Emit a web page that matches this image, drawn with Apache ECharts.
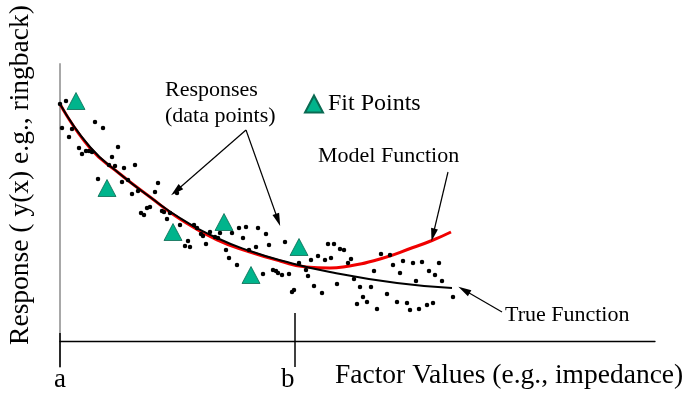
<!DOCTYPE html>
<html>
<head>
<meta charset="utf-8">
<script src="https://cdn.jsdelivr.net/npm/echarts@6/dist/echarts.min.js"></script>
<style>html,body{margin:0;padding:0;background:#fff}#c{width:692px;height:397px}</style>
</head>
<body>
<div id="c"></div>
<script>
// Data (x: factor units from a, y: response units above the factor axis)
const responseDots = [
[0,237],[6,240],[2,213],[9,204],[12,212],[35,219],[43,213],[19,193],[22,187],[26,190],[29,190],[32,189],
[58,194],[52,184],[49,176],[55,175],[64,173],[75,176],[38,162],[62,159],[68,161],[72,147],[98,158],[95,149],
[78,150],[87,133],[90,134],[81,128],[84,126],[102,130],[104,129],[110,128],[107,122],[117,148],[120,116],
[134,116],[137,113],[141,107],[143,105],[150,109],[155,104],[158,103],[128,100],[125,95],[130,94],[146,97],
[160,108],[172,108],[179,113],[186,114],[183,103],[166,91],[169,83],[177,76],[198,113],[206,107],[196,94],
[209,96],[189,91],[225,99],[203,67],[213,71],[216,70],[218,68],[222,66],[229,67],[232,49],[234,51],[239,78],
[246,71],[248,65],[254,55],[251,81],[258,85],[265,81],[268,97],[262,48],[271,83],[274,97],[280,92],[284,91],
[291,82],[288,78],[277,57],[294,62],[300,54],[311,54],[303,44],[307,39],[297,37],[317,32],[314,70],[321,87],
[330,86],[333,76],[343,80],[340,68],[353,78],[362,79],[356,60],[369,70],[375,66],[379,78],[382,60],[327,47],
[337,39],[347,38],[350,31],[359,32],[367,36],[373,38],[393,44]
];
const trueFunction = [[0,237],[30,194],[60,167],[90,144],[120,123],[157,103],[190,90],[223,80],[270,69],[337,58],[392,53]];
const modelFunction = [[0,237],[30,193],[60,167],[90,144],[120,122],[157,101],[190,89],[220,80],[246,74],[270,73],
[283,74],[320,82],[353,93.5],[372,100.5],[391,109]];
const fitPoints = [[16,240],[47,153],[113,109],[164,119],[191,66],[239,94]];
const tickA = 0, tickB = 235;
const arrows = [
  [[186,211],[116,150]],
  [[186,211],[218,121]],
  [[388,169],[373,106]],
  [[442,29],[404,51]]
];
const axisLabelA = 'a', axisLabelB = 'b';
const xTitle = 'Factor Values (e.g., impedance)';
const yTitle = 'Response ( y(x) e.g., ringback)';

const serif = '"Liberation Serif","Times New Roman",serif';
const chart = echarts.init(document.getElementById('c'));
chart.setOption({
  animation: false,
  backgroundColor: '#fff',
  grid: {left: 60, right: 37, top: 64, bottom: 30},
  xAxis: {type: 'value', min: 0, max: 595, axisLine: {onZero: true, lineStyle: {color: '#000', width: 1.3}},
    axisTick: {show: false}, axisLabel: {show: false}, splitLine: {show: false}},
  yAxis: {type: 'value', min: -26, max: 277, axisLine: {show: true, lineStyle: {color: '#a8a8a8', width: 2}},
    axisTick: {show: false}, axisLabel: {show: false}, splitLine: {show: false}},
  legend: {data: [{name: 'Fit Points', icon: 'triangle'}], left: 299, top: 87, itemWidth: 18, itemHeight: 17,
    textStyle: {fontFamily: serif, fontSize: 24, color: '#000'}},
  series: [
    {type: 'line', name: 'Model Function', data: modelFunction, smooth: 0.5, showSymbol: false,
      lineStyle: {color: '#f00000', width: 3}, z: 3},
    {type: 'line', name: 'True Function', data: trueFunction, smooth: 0.5, showSymbol: false,
      lineStyle: {color: '#000', width: 2}, z: 4},
    {type: 'scatter', name: 'Responses', data: responseDots, symbolSize: 4.5, itemStyle: {color: '#000', opacity: 1}, z: 5},
    {type: 'scatter', name: 'Fit Points', data: fitPoints, symbol: 'triangle', symbolSize: [18, 17],
      itemStyle: {color: '#00b48c', borderColor: '#0a6a52', borderWidth: 0.8, opacity: 1}, z: 6},
    {type: 'line', data: [], silent: true,
      markLine: {silent: true, symbol: ['none', 'none'], lineStyle: {color: '#000', width: 1.5, type: 'solid'}, label: {show: false},
        data: [
          [{coord: [tickA, 8]}, {coord: [tickA, -26]}],
          [{coord: [tickB, 28]}, {coord: [tickB, -26]}]
        ]}},
    {type: 'line', data: [], silent: true,
      markLine: {silent: true, symbol: ['none', 'triangle'], symbolSize: [7, 13],
        lineStyle: {color: '#000', width: 1.2, type: 'solid'}, itemStyle: {color: '#000'}, label: {show: false},
        data: arrows.map(a => [{coord: a[0]}, {coord: a[1]}])}}
  ],
  graphic: [
    {type: 'text', left: 165, top: 79, style: {text: 'Responses', font: '22px ' + serif, fill: '#000'}},
    {type: 'text', left: 165, top: 105, style: {text: '(data points)', font: '22px ' + serif, fill: '#000'}},
    {type: 'text', left: 318, top: 145, style: {text: 'Model Function', font: '22px ' + serif, fill: '#000'}},
    {type: 'text', left: 505, top: 304, style: {text: 'True Function', font: '22px ' + serif, fill: '#000'}},
    {type: 'text', left: 335, top: 362, style: {text: xTitle, font: '27.5px ' + serif, fill: '#000'}},
    {type: 'text', left: 54, top: 366, style: {text: axisLabelA, font: '27px ' + serif, fill: '#000'}},
    {type: 'text', left: 281, top: 366, style: {text: axisLabelB, font: '27px ' + serif, fill: '#000'}},
    {type: 'text', x: 21, y: 175, rotation: Math.PI / 2,
      style: {text: yTitle, font: '27.5px ' + serif, fill: '#000', textAlign: 'center', textVerticalAlign: 'middle'}}
  ]
});
</script>
</body>
</html>
